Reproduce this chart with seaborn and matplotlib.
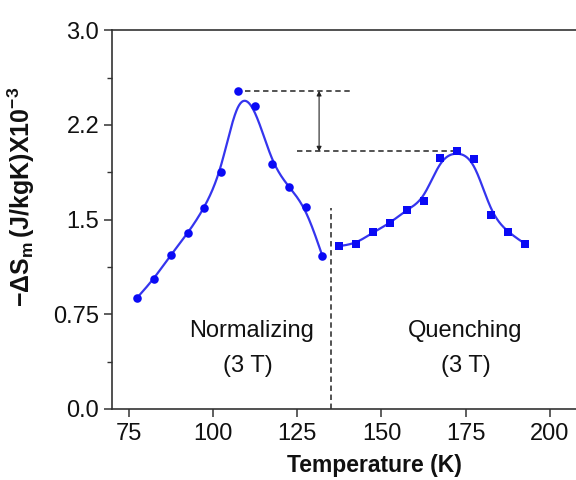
import numpy as np
import pandas as pd
import matplotlib
matplotlib.use("Agg")
import matplotlib.pyplot as plt
import seaborn as sns

# valeurs
norm_T = [77.5, 82.5, 87.5, 92.5, 97.5, 102.5, 107.5, 112.5, 117.5, 122.5, 127.5, 132.5]
norm_S = [0.88, 1.03, 1.22, 1.39, 1.59, 1.88, 2.52, 2.40, 1.94, 1.76, 1.60, 1.21]
quench_T = [137.5, 142.5, 147.5, 152.5, 157.5, 162.5, 167.5, 172.5, 177.5, 182.5, 187.5, 192.5]
quench_S = [1.29, 1.31, 1.40, 1.47, 1.58, 1.65, 1.99, 2.04, 1.98, 1.54, 1.40, 1.31]

y_ticks = [0.0, 0.75, 1.5, 2.25, 3.0]
y_ticklabels = ["0.0", "0.75", "1.5", "2.2", "3.0"]
x_ticks = [75, 100, 125, 150, 175, 200]

sns.set_theme(style="ticks")
plt.rcParams["font.family"] = ["Liberation Sans", "DejaVu Sans"]
plt.rcParams["mathtext.fontset"] = "custom"
plt.rcParams["mathtext.rm"] = "Liberation Sans:bold"
plt.rcParams["mathtext.it"] = "Liberation Sans:bold"
plt.rcParams["mathtext.default"] = "rm"


def bspline(xs, ys, n=40):
    # B-spline cubique uniforme (courbe lissée comme dans Origin)
    P = np.column_stack([xs, ys])
    P = np.vstack([2 * P[0] - P[1], P, 2 * P[-1] - P[-2]])
    t = np.linspace(0, 1, n, endpoint=False)[:, None]
    b0 = (1 - t) ** 3 / 6
    b1 = (3 * t**3 - 6 * t**2 + 4) / 6
    b2 = (-3 * t**3 + 3 * t**2 + 3 * t + 1) / 6
    b3 = t**3 / 6
    segs = [b0 * P[i] + b1 * P[i + 1] + b2 * P[i + 2] + b3 * P[i + 3] for i in range(len(P) - 3)]
    segs.append(P[-2][None])
    pts = np.vstack(segs)
    return pd.DataFrame({"T": pts[:, 0], "S": pts[:, 1]})


fig = plt.figure(figsize=(5.76, 4.8), dpi=100)
ax = fig.add_axes([0.194, 0.148, 0.806, 0.789])

line_col = "#3535ee"
mark_col = "#0a0af5"

sns.lineplot(data=bspline(norm_T, norm_S), x="T", y="S", sort=False, color=line_col, lw=1.6, ax=ax)
sns.lineplot(data=bspline(quench_T, quench_S), x="T", y="S", sort=False, color=line_col, lw=1.6, ax=ax)
sns.scatterplot(x=norm_T, y=norm_S, marker="o", s=38, color=mark_col, edgecolor=mark_col, linewidth=0, ax=ax, zorder=3)
sns.scatterplot(x=quench_T, y=quench_S, marker="s", s=34, color=mark_col, edgecolor=mark_col, linewidth=0, ax=ax, zorder=3)

# lignes pointillées et flèche
dash = dict(color="#444444", lw=1.3, ls=(0, (3, 2)))
top = max(norm_S)
low = max(quench_S)
ax.plot([109.4, 141.6], [top, top], **dash)
ax.plot([124.8, 172.5], [low, low], **dash)
ax.plot([135, 135], [0, 1.59], **dash)
ax.annotate("", xy=(131.5, low), xytext=(131.5, top),
            arrowprops=dict(arrowstyle="<|-|>", color="#222222", lw=0.8,
                            mutation_scale=7, shrinkA=0, shrinkB=0))

ax.text(111.5, 0.62, "Normalizing", fontsize=17, ha="center", va="center", color="#111111")
ax.text(110.5, 0.34, "(3 T)", fontsize=17, ha="center", va="center", color="#111111")
ax.text(174.7, 0.62, "Quenching", fontsize=17, ha="center", va="center", color="#111111")
ax.text(174.9, 0.34, "(3 T)", fontsize=17, ha="center", va="center", color="#111111")

ax.set_xlim(70, 207.7)
ax.set_ylim(0, 3.0)
ax.set_xticks(x_ticks)
ax.set_yticks(y_ticks)
ax.set_yticklabels(y_ticklabels)
ax.set_yticks([0.375, 1.125, 1.875, 2.625], minor=True)

ax.tick_params(axis="both", which="major", direction="out", length=6, width=1.1,
               labelsize=17, pad=3, colors="#333333", labelcolor="#111111")
ax.tick_params(axis="y", which="minor", direction="out", length=3.5, width=1.0, colors="#333333")
ax.tick_params(axis="x", pad=4)

for side in ["left", "bottom", "top"]:
    ax.spines[side].set_visible(True)
    ax.spines[side].set_linewidth(1.2)
    ax.spines[side].set_color("#333333")
ax.spines["right"].set_visible(False)

ax.set_xlabel("Temperature (K)", fontsize=16.5, fontweight="bold", color="#111111")
ax.xaxis.set_label_coords(0.565, -0.12)
ax.set_ylabel(r"$-\Delta S_m\,(J/kgK)X10^{-3}$", fontsize=18, color="#111111")
ax.yaxis.set_label_coords(-0.16, 0.56)

fig.savefig("out.png", dpi=100)
